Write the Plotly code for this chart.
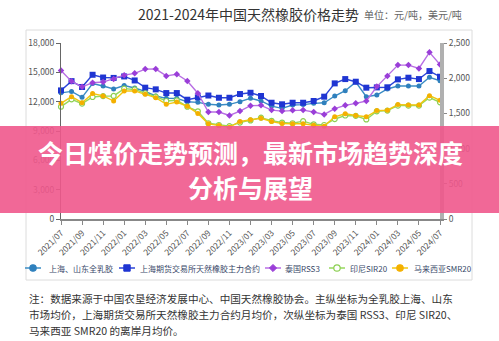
import plotly.graph_objects as go

# Monthly categories, 2021/07 - 2024/07
months = [
    "2021/07", "2021/08", "2021/09", "2021/10", "2021/11", "2021/12",
    "2022/01", "2022/02", "2022/03", "2022/04", "2022/05", "2022/06",
    "2022/07", "2022/08", "2022/09", "2022/10", "2022/11", "2022/12",
    "2023/01", "2023/02", "2023/03", "2023/04", "2023/05", "2023/06",
    "2023/07", "2023/08", "2023/09", "2023/10", "2023/11", "2023/12",
    "2024/01", "2024/02", "2024/03", "2024/04", "2024/05", "2024/06",
    "2024/07",
]
tick_months = ["2021/07", "2021/09", "2021/11", "2022/01", "2022/03", "2022/05",
               "2022/07", "2022/09", "2022/11", "2023/01", "2023/03", "2023/05",
               "2023/07", "2023/09", "2023/11", "2024/01", "2024/03", "2024/05",
               "2024/07"]

# Primary axis (元/吨)
latex_sh_sd = [12900, 13050, 12440, 13850, 13600, 13300, 13650, 13400, 13050,
               12580, 12340, 12340, 11990, 11930, 11730, 11660, 11730, 12000,
               12350, 12070, 11550, 11320, 11660, 11700, 11830, 11890, 12580,
               13120, 14000, 12510, 12680, 13300, 13600, 13600, 13600, 14490,
               14140]
shfe_main = [13150, 14100, 13500, 14750, 14470, 14430, 14580, 14170, 13430,
             13260, 12880, 12880, 12200, 12440, 12630, 12400, 12400, 12780,
             12910, 12580, 11890, 11730, 11890, 11890, 12070, 12510, 13870,
             14310, 14040, 13430, 13460, 13470, 14280, 14450, 14310, 15130,
             14550]

# Secondary axis (美元/吨)
rss3_th = [2110, 1955, 1878, 1935, 1945, 1990, 2043, 2069, 2129, 2130, 2033,
           2057, 1961, 1786, 1519, 1519, 1471, 1533, 1610, 1614, 1547, 1533,
           1543, 1547, 1519, 1486, 1567, 1614, 1643, 1676, 1881, 2033, 2186,
           2186, 2138, 2367, 2195]
sir20_id = [1595, 1700, 1638, 1733, 1745, 1748, 1852, 1840, 1786, 1738, 1676,
            1686, 1595, 1530, 1360, 1335, 1320, 1370, 1400, 1440, 1395, 1370,
            1360, 1390, 1345, 1335, 1420, 1470, 1465, 1414, 1530, 1540, 1610,
            1610, 1610, 1724, 1657]
smr20_my = [1643, 1738, 1652, 1781, 1748, 1676, 1819, 1819, 1771, 1724, 1629,
            1662, 1600, 1500, 1352, 1329, 1305, 1385, 1410, 1430, 1385, 1355,
            1352, 1352, 1330, 1319, 1452, 1495, 1470, 1452, 1540, 1545, 1625,
            1620, 1620, 1752, 1686]

FONT = "Noto Sans CJK SC"
W, H = 499, 341
L, R, T, B = 61, 59, 43, 122
PW = W - L - R
PH = H - T - B


def fx(px):
    return (px - L) / PW


def fy(py):
    return (H - B - py) / PH


series = [
    dict(name="上海、山东全乳胶", y=latex_sh_sd, axis="y", line="#3a8cc4",
         marker=dict(symbol="circle", size=5, color="#2f80bd")),
    dict(name="上海期货交易所天然橡胶主力合约", y=shfe_main, axis="y", line="#2b45d8",
         marker=dict(symbol="square", size=6, color="#1f35d2")),
    dict(name="泰国RSS3", y=rss3_th, axis="y2", line="#b86ee4",
         marker=dict(symbol="diamond", size=5, color="#9a3ed8")),
    dict(name="印尼SIR20", y=sir20_id, axis="y2", line="#96d85c",
         marker=dict(symbol="circle", size=5, color="white",
                     line=dict(color="#8ccf52", width=1.2))),
    dict(name="马来西亚SMR20", y=smr20_my, axis="y2", line="#f0c810",
         marker=dict(symbol="circle", size=5, color="#f4b000")),
]

fig = go.Figure()
for s in series:
    fig.add_trace(go.Scatter(
        x=months, y=s["y"], name=s["name"], yaxis=s["axis"],
        mode="lines+markers", line=dict(color=s["line"], width=1.4),
        marker=s["marker"], cliponaxis=False, showlegend=False,
    ))

shapes = []
annotations = []

# outer frame of the chart
shapes.append(dict(type="rect", xref="paper", yref="paper",
                   x0=fx(26), x1=fx(472), y0=fy(280), y1=fy(30),
                   line=dict(color="#dcdcdc", width=1), layer="below"))

# hand-built legend row
legend_items = [
    (33, 47, series[0]),
    (127, 138, series[1]),
    (273, 283, series[2]),
    (337, 348, series[3]),
    (400, 412, series[4]),
]
ly = 268
for cx, tx, s in legend_items:
    shapes.append(dict(type="line", xref="paper", yref="paper",
                       x0=fx(cx - 8), x1=fx(cx + 8), y0=fy(ly), y1=fy(ly),
                       line=dict(color=s["line"], width=1.5)))
    sym = s["marker"]["symbol"]
    fill = s["marker"]["color"]
    edge = s["marker"].get("line", {}).get("color", fill)
    r = 3.2
    if sym == "square":
        shapes.append(dict(type="rect", xref="paper", yref="paper",
                           x0=fx(cx - r), x1=fx(cx + r), y0=fy(ly + r), y1=fy(ly - r),
                           fillcolor=fill, line=dict(color=edge, width=1)))
    elif sym == "diamond":
        path = "M {} {} L {} {} L {} {} L {} {} Z".format(
            fx(cx), fy(ly - 3.6), fx(cx + 3.6), fy(ly), fx(cx), fy(ly + 3.6), fx(cx - 3.6), fy(ly))
        shapes.append(dict(type="path", xref="paper", yref="paper", path=path,
                           fillcolor=fill, line=dict(color=edge, width=1)))
    else:
        shapes.append(dict(type="circle", xref="paper", yref="paper",
                           x0=fx(cx - r), x1=fx(cx + r), y0=fy(ly + r), y1=fy(ly - r),
                           fillcolor=fill, line=dict(color=edge, width=1.2)))
    annotations.append(dict(text=s["name"], xref="paper", yref="paper",
                            x=fx(tx), y=fy(ly), xanchor="left", yanchor="middle",
                            showarrow=False, font=dict(family=FONT, size=8, color="#3a4a6a")))

# title and unit
annotations.append(dict(text="2021-2024年中国天然橡胶价格走势", xref="paper", yref="paper",
                        x=fx(248), y=fy(14), xanchor="center", yanchor="middle",
                        showarrow=False, font=dict(family=FONT, size=14, color="#333333")))
annotations.append(dict(text="单位：元/吨，美元/吨", xref="paper", yref="paper",
                        x=fx(362), y=fy(15), xanchor="left", yanchor="middle",
                        showarrow=False, font=dict(family=FONT, size=10, color="#666666")))

# footnote
notes = [
    "注：数据来源于中国农垦经济发展中心、中国天然橡胶协会。主纵坐标为全乳胶上海、山东",
    "市场均价，上海期货交易所天然橡胶主力合约月均价，次纵坐标为泰国 RSS3、印尼 SIR20、",
    "马来西亚 SMR20 的离岸月均价。",
]
for i, line in enumerate(notes):
    annotations.append(dict(text=line, xref="paper", yref="paper",
                            x=fx(27), y=fy(298 + 16 * i), xanchor="left", yanchor="middle",
                            showarrow=False, font=dict(family=FONT, size=10.6, color="#333333")))

# headline banner across the chart
shapes.append(dict(type="rect", xref="paper", yref="paper",
                   x0=fx(0), x1=fx(W), y0=fy(213), y1=fy(126),
                   fillcolor="rgba(239,88,140,0.9)", line=dict(width=0), layer="above"))
annotations.append(dict(text="<b>今日煤价走势预测，最新市场趋势深度</b>", xref="paper", yref="paper",
                        x=fx(250), y=fy(152), xanchor="center", yanchor="middle",
                        showarrow=False, font=dict(family=FONT, size=25, color="white")))
annotations.append(dict(text="<b>分析与展望</b>", xref="paper", yref="paper",
                        x=fx(250), y=fy(187), xanchor="center", yanchor="middle",
                        showarrow=False, font=dict(family=FONT, size=25, color="white")))

tick_font = dict(family=FONT, size=8.5, color="#555555")
fig.update_layout(
    width=W, height=H, autosize=False,
    margin=dict(l=L, r=R, t=T, b=B, pad=0),
    paper_bgcolor="white", plot_bgcolor="white",
    showlegend=False,
    xaxis=dict(type="category", range=[0, len(months) - 1],
               tickmode="array", tickvals=tick_months, ticktext=tick_months,
               tickangle=-45, tickfont=tick_font,
               showline=True, linecolor="#888888", linewidth=1.5,
               ticks="outside", ticklen=4, tickcolor="#888888",
               showgrid=False, zeroline=False),
    yaxis=dict(range=[0, 18000], tickmode="linear", tick0=0, dtick=3000,
               tickformat=",", tickfont=tick_font,
               showline=True, linecolor="#666666", linewidth=1,
               ticks="outside", ticklen=4, tickcolor="#666666",
               showgrid=False, zeroline=False),
    yaxis2=dict(range=[0, 2500], tickmode="linear", tick0=0, dtick=500,
                tickformat=",", tickfont=tick_font, overlaying="y", side="right",
                showline=True, linecolor="#b0b0b0", linewidth=4,
                ticks="outside", ticklen=3, tickcolor="#888888",
                showgrid=False, zeroline=False),
    shapes=shapes,
    annotations=annotations,
)

fig.write_html("out.html")
